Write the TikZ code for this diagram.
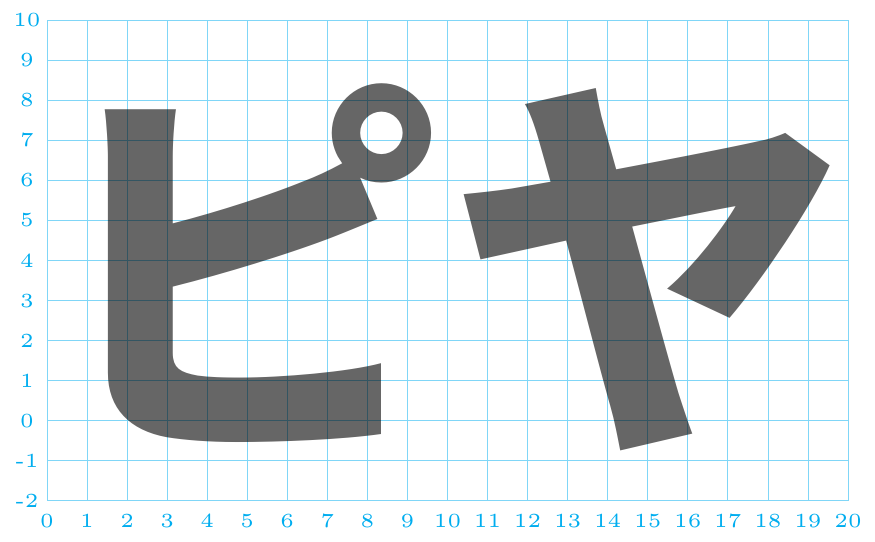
\documentclass[tikz,border=0pt]{standalone}
\usepackage{fontspec}
\newfontfamily\jp{Noto Sans CJK JP}
\begin{document}
\begin{tikzpicture}[x=100pt,y=100pt]
\foreach \i in {0,...,20}{
  \draw[cyan!50,very thin] (\i*0.1,-0.2) -- (\i*0.1,1.0);
  \node[font=\tiny,cyan] at (\i*0.1,-0.25) {\i};
}
\foreach \j in {-2,...,10}{
  \draw[cyan!50,very thin] (0,\j*0.1) -- (2,\j*0.1);
  \node[font=\tiny,cyan] at (-0.05,\j*0.1) {\j};
}
\node[anchor=base west,inner sep=0pt,font=\jp\bfseries\fontsize{100}{100}\selectfont,opacity=0.6] at (0,0) {ピ};
\node[anchor=base west,inner sep=0pt,font=\jp\bfseries\fontsize{100}{100}\selectfont,opacity=0.6] at (1,0) {ヤ};
\end{tikzpicture}
\end{document}
